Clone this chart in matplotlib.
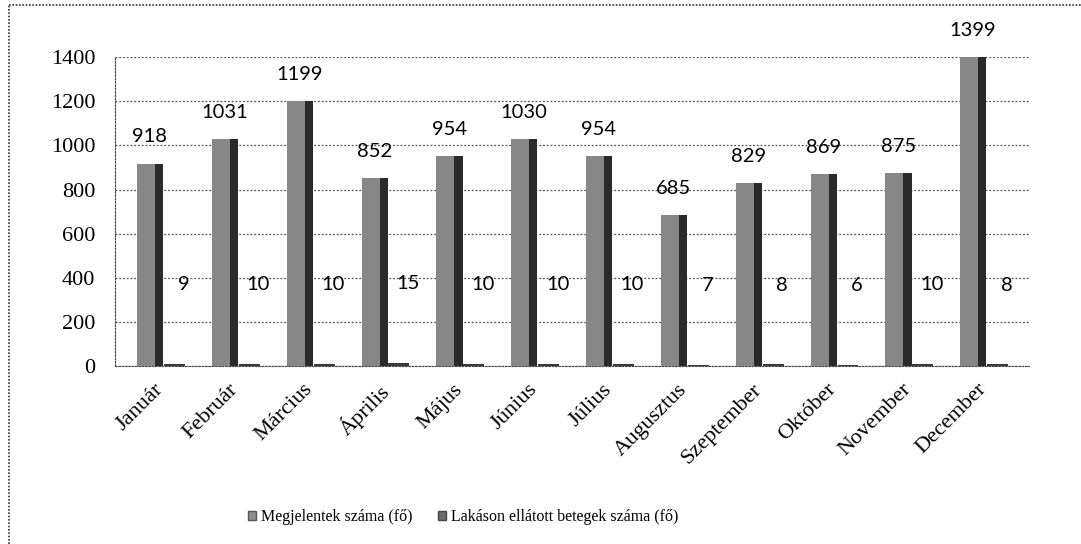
import matplotlib.pyplot as plt
import numpy as np
from matplotlib.patches import Patch
from matplotlib.lines import Line2D

# Data
months = ['Január', 'Február', 'Március', 'Április', 'Május', 'Június',
          'Július', 'Augusztus', 'Szeptember', 'Október', 'November', 'December']
megjelentek = [918, 1031, 1199, 852, 954, 1030, 954, 685, 829, 869, 875, 1399]
lakason = [9, 10, 10, 15, 10, 10, 10, 7, 8, 6, 10, 8]
yticks = [0, 200, 400, 600, 800, 1000, 1200, 1400]

serif = 'Liberation Serif'
sans = 'Lato'

fig = plt.figure(figsize=(10.81, 5.44), dpi=100)
ax = fig.add_axes([0.106, 0.327, 0.846, 0.568])

x = np.arange(len(months))

# main bars: light front face + dark side face
ax.bar(x - 0.05, megjelentek, width=0.24, color='#878787', zorder=3)
ax.bar(x + 0.125, megjelentek, width=0.11, color='#2a2a2a', zorder=3)
# second series: flat dark bars
ax.bar(x + 0.33, lakason, width=0.28, color='#3a3a3a', zorder=3)

for xi, v in zip(x, megjelentek):
    ax.annotate(str(v), (xi, v), xytext=(0, 13), textcoords='offset points',
                ha='center', va='bottom', fontsize=14.5, family=sans)
for xi, v in zip(x, lakason):
    ax.annotate(str(v), (xi + 0.45, v), xytext=(0, 51), textcoords='offset points',
                ha='center', va='bottom', fontsize=14.5, family=sans)

ax.set_xlim(-0.47, 11.75)
ax.set_ylim(0, 1400)
ax.set_yticks(yticks)
ax.set_yticklabels([str(t) for t in yticks], family=serif, fontsize=16)
ax.set_xticks(x + 0.05)
ax.set_xticklabels(months, rotation=45, ha='right', rotation_mode='anchor',
                   family=serif, fontsize=16)
ax.tick_params(axis='y', length=0, pad=14)
ax.tick_params(axis='x', length=0, pad=10)

ax.yaxis.grid(True, linestyle=(0, (1.5, 1.5)), color='#555555', linewidth=0.9, zorder=0)
for side in ['top', 'right']:
    ax.spines[side].set_visible(False)
ax.spines['left'].set_linestyle((0, (1.5, 1.5)))
ax.spines['bottom'].set_linestyle((0, (1.5, 1.5)))
ax.spines['left'].set_color('#444444')
ax.spines['bottom'].set_color('#444444')

# outer dotted border (left and top edges visible on the scan)
fig.add_artist(Line2D([0.008, 0.008], [0.0, 0.99], transform=fig.transFigure,
                      color='#333333', linestyle=(0, (1, 1)), linewidth=1.2))
fig.add_artist(Line2D([0.008, 1.0], [0.99, 0.99], transform=fig.transFigure,
                      color='#333333', linestyle=(0, (1, 1)), linewidth=1.2))

handles = [Patch(facecolor='#8e8e8e', edgecolor='#555555', label='Megjelentek száma (fő)'),
           Patch(facecolor='#6a6a6a', edgecolor='#444444', label='Lakáson ellátott betegek száma (fő)')]
fig.legend(handles=handles, loc='center', bbox_to_anchor=(463 / 1081, 1 - 517 / 544),
           ncol=2, frameon=False, prop={'family': serif, 'size': 11.5},
           handlelength=0.5, handleheight=0.5, handletextpad=0.3, columnspacing=1.6)

fig.savefig('out.png', dpi=100)
